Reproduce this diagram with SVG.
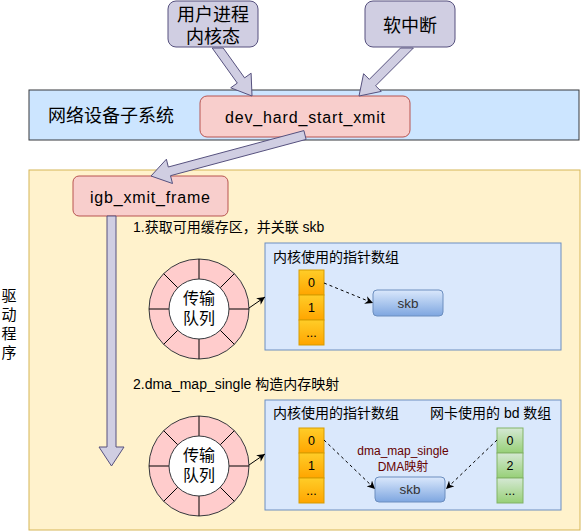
<svg xmlns="http://www.w3.org/2000/svg" width="581" height="531" viewBox="0 0 581 531">
<defs>
<linearGradient id="gOrange" x1="0" y1="0" x2="0" y2="1"><stop offset="0" stop-color="#ffcd28"/><stop offset="1" stop-color="#ffa500"/></linearGradient>
<linearGradient id="gGreen" x1="0" y1="0" x2="0" y2="1"><stop offset="0" stop-color="#d5e8d4"/><stop offset="1" stop-color="#97d077"/></linearGradient>
<linearGradient id="gBlue" x1="0" y1="0" x2="0" y2="1"><stop offset="0" stop-color="#dae8fc"/><stop offset="1" stop-color="#7ea6e0"/></linearGradient>
<marker id="ah" viewBox="0 0 10 10" refX="10" refY="5" markerWidth="8" markerHeight="8" markerUnits="userSpaceOnUse" orient="auto">
<path d="M0,0 L10,5 L0,10 L3,5 z" fill="#000"/>
</marker>
<g id="ringShape">
<circle cx="0" cy="0" r="50" fill="#ffcccc" stroke="#36393d"/>
<path d="M30,0 L50,0 M21.2,21.2 L35.4,35.4 M0,30 L0,50 M-21.2,21.2 L-35.4,35.4 M-30,0 L-50,0 M-21.2,-21.2 L-35.4,-35.4 M0,-30 L0,-50 M21.2,-21.2 L35.4,-35.4" stroke="#000" stroke-width="1"/>
<circle cx="0" cy="0" r="30" fill="#fff" stroke="#36393d"/>
</g>
</defs>
<style>
text{font-family:"Liberation Sans","Noto Sans CJK SC",sans-serif;fill:#000;dominant-baseline:central}
.lav{fill:#d0cee2;stroke:#56517e;stroke-width:1}
.red{fill:#f8cecc;stroke:#b85450;stroke-width:1}
.blue{fill:#dae8fc;stroke:#6c8ebf;stroke-width:1}
.org{fill:url(#gOrange);stroke:#d79b00;stroke-width:1}
.grn{fill:url(#gGreen);stroke:#82b366;stroke-width:1}
.skb{fill:url(#gBlue);stroke:#6c8ebf;stroke-width:1}
.t18{font-size:18px}
.t16{font-size:16px}
.t15{font-size:15px}
.t14{font-size:14px}
.t12{font-size:12.5px}
.c{text-anchor:middle}
.dash{stroke:#000;stroke-width:1;stroke-dasharray:3 3;fill:none}
.solid{stroke:#000;stroke-width:1;fill:none}
.skbt{font-size:13.5px;fill:#333}
.dma{font-size:12px;fill:#660000}
</style>

<g id="driver-area">
<rect x="29" y="170" width="551" height="360" fill="#fff2cc" stroke="#d6b656"/>
</g>
<g id="driver-label">
<text class="t15 c" x="9" y="295">驱</text>
<text class="t15 c" x="9" y="314">动</text>
<text class="t15 c" x="9" y="333">程</text>
<text class="t15 c" x="9" y="352">序</text>
</g>

<g id="net-subsystem">
<rect x="29" y="90" width="550" height="50" fill="#cce5ff" stroke="#36393d"/>
<text class="t18" x="48" y="116">网络设备子系统</text>
</g>

<g id="user-process">
<rect class="lav" x="168" y="1" width="90" height="46" rx="8"/>
<text class="t18 c" x="213" y="15">用户进程</text>
<text class="t18 c" x="213" y="37">内核态</text>
</g>
<g id="softirq">
<rect class="lav" x="365" y="1" width="90" height="46" rx="8"/>
<text class="t18 c" x="410" y="26">软中断</text>
</g>

<g id="dev-hard-start-xmit">
<rect class="red" x="200" y="96" width="210" height="41" rx="7"/>
<text class="t16 c" x="305" y="117" textLength="160" lengthAdjust="spacing">dev_hard_start_xmit</text>
</g>

<g id="igb-xmit-frame">
<rect class="red" x="73" y="176" width="155" height="40" rx="6"/>
<text class="t16 c" x="150" y="197" textLength="120" lengthAdjust="spacing">igb_xmit_frame</text>
</g>

<g id="step1-label">
<text class="t14" x="133" y="227">1.获取可用缓存区，并关联 skb</text>
</g>
<g id="step2-label">
<text class="t14" x="133" y="384">2.dma_map_single 构造内存映射</text>
</g>

<g id="queue1">
<use href="#ringShape" x="199" y="309"/>
<text class="t16 c" x="199" y="298">传输</text>
<text class="t16 c" x="199" y="318">队列</text>
</g>
<g id="queue2">
<use href="#ringShape" x="199" y="466"/>
<text class="t16 c" x="199" y="455">传输</text>
<text class="t16 c" x="199" y="475">队列</text>
</g>

<g id="panel1">
<rect class="blue" x="265" y="243" width="296" height="107"/>
<text class="t14" x="273" y="257">内核使用的指针数组</text>
</g>
<g id="kernel-array1">
<rect class="org" x="299" y="270" width="25" height="25"/>
<rect class="org" x="299" y="295" width="25" height="25"/>
<rect class="org" x="299" y="320" width="25" height="25"/>
<text class="t12 c" x="311.5" y="282.5">0</text>
<text class="t12 c" x="311.5" y="307.5">1</text>
<text class="t12 c" x="311.5" y="333">...</text>
</g>
<g id="skb1">
<rect class="skb" x="373" y="290" width="70" height="26" rx="4"/>
<text class="skbt c" x="408" y="303">skb</text>
</g>

<g id="panel2">
<rect class="blue" x="265" y="400" width="296" height="110"/>
<text class="t14" x="273" y="413">内核使用的指针数组</text>
<text class="t14" x="430" y="413">网卡使用的 bd 数组</text>
<text class="dma c" x="403" y="451">dma_map_single</text>
<text class="dma c" x="403" y="467">DMA映射</text>
</g>
<g id="kernel-array2">
<rect class="org" x="299" y="428" width="25" height="25"/>
<rect class="org" x="299" y="453" width="25" height="25"/>
<rect class="org" x="299" y="478" width="25" height="25"/>
<text class="t12 c" x="311.5" y="440.5">0</text>
<text class="t12 c" x="311.5" y="465.5">1</text>
<text class="t12 c" x="311.5" y="491">...</text>
</g>
<g id="bd-array">
<rect class="grn" x="497" y="428" width="26" height="25"/>
<rect class="grn" x="497" y="453" width="26" height="25"/>
<rect class="grn" x="497" y="478" width="26" height="25"/>
<text class="t12 c" x="510" y="440.5">0</text>
<text class="t12 c" x="510" y="465.5">2</text>
<text class="t12 c" x="510" y="491">...</text>
</g>
<g id="skb2">
<rect class="skb" x="375" y="477" width="70" height="25" rx="4"/>
<text class="skbt c" x="410" y="489.5">skb</text>
</g>

<g id="connectors">
<polygon class="lav" points="212.2,48 237.3,83.1 230.7,87.8 252,96 251.1,73.2 244.6,77.9 223.2,48"/>
<polygon class="lav" points="400.6,48 369.3,79.4 363.6,73.7 359,96 381.3,91.4 375.6,85.8 413.4,48"/>
<polygon class="lav" points="303.9,130.6 168.3,167 166.4,159.2 151,176 172.5,183.5 170.5,175.7 306.1,139.4"/>
<polygon class="lav" points="107,216 107,447 99,447 111.5,466 124,447 116,447 116,216"/>
<line class="solid" x1="249" y1="308" x2="265" y2="297" marker-end="url(#ah)"/>
<line class="solid" x1="249" y1="465" x2="265" y2="454" marker-end="url(#ah)"/>
<line class="dash" x1="324" y1="283" x2="373" y2="303" marker-end="url(#ah)"/>
<line class="dash" x1="324" y1="440" x2="375" y2="489" marker-end="url(#ah)"/>
<line class="dash" x1="497" y1="440" x2="446" y2="489" marker-end="url(#ah)"/>
</g>
</svg>
